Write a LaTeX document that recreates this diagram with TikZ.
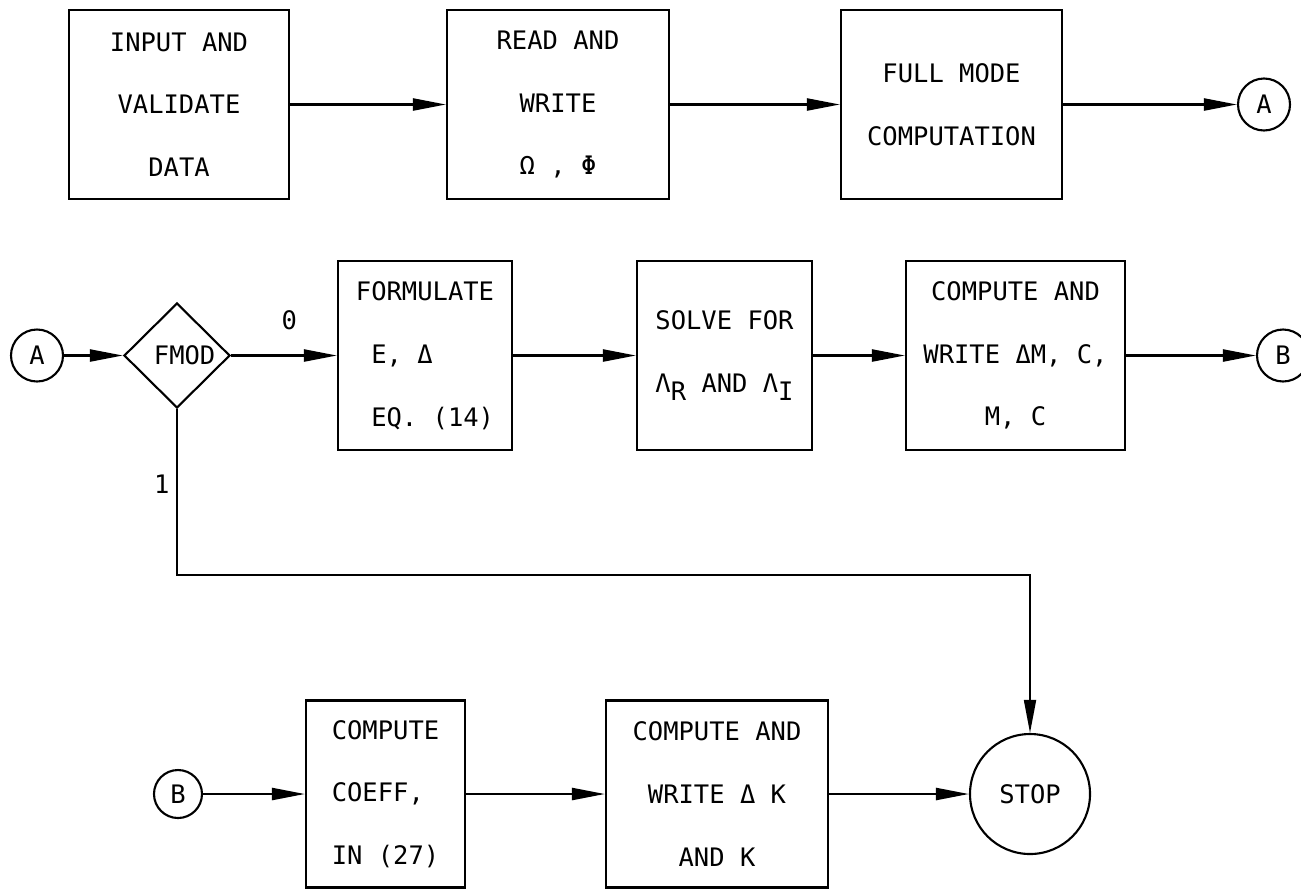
\documentclass[tikz,border=0pt]{standalone}
\usepackage{fontspec}
\setmonofont{DejaVu Sans Mono}
\usetikzlibrary{arrows.meta,shapes.geometric}
\newcommand{\flowfont}{\ttfamily\fontsize{14.5pt}{35.7pt}\selectfont}
\newcommand{\subdown}[1]{\raisebox{-0.6ex}{#1}}

\begin{document}
\begin{tikzpicture}[
  box/.style={rectangle,draw,line width=1.2pt,minimum height=3.78cm,inner sep=0pt,align=center,font=\flowfont},
  conn/.style={circle,draw,line width=1.2pt,minimum size=1.04cm,inner sep=0pt,font=\flowfont},
  test/.style={diamond,draw,line width=1.2pt,minimum width=2.12cm,minimum height=2.1cm,inner sep=0pt,font=\flowfont},
  lbl/.style={font=\flowfont,inner sep=1pt},
  arc/.style={-{Triangle[length=6.6mm,width=2.4mm]},line width=1.3pt}]
  \useasboundingbox (0,0) rectangle (26.02,-17.8);

  % first row
  \node[box,minimum width=4.4cm] (input) at (3.58,-2.09) {INPUT AND\\VALIDATE\\DATA};
  \node[box,minimum width=4.44cm] (readw) at (11.16,-2.09) {READ AND\\WRITE\\Ω , Φ};
  \node[box,minimum width=4.42cm] (fullm) at (19.03,-2.09) {FULL MODE\\COMPUTATION};
  \node[conn] (conA1) at (25.28,-2.09) {A};
  \draw[arc] (input) -- (readw);
  \draw[arc] (readw) -- (fullm);
  \draw[arc] (fullm) -- (conA1);

  % second row
  \node[conn] (conA2) at (0.74,-7.11) {A};
  \node[test] (fmod) at (3.54,-7.11) {\hspace*{0.6em}FMOD};
  \node[box,minimum width=3.48cm,align=left] (formul) at (8.5,-7.11) {FORMULATE\\~E, Δ\\~EQ. (14)};
  \node[box,minimum width=3.5cm] (solve) at (14.49,-7.11) {SOLVE FOR\\Λ\subdown{R} AND Λ\subdown{I}};
  \node[box,minimum width=4.38cm] (compmc) at (20.31,-7.11) {COMPUTE AND\\WRITE ΔM, C,\\M, C};
  \node[conn] (conB1) at (25.66,-7.11) {B};
  \draw[arc] (conA2) -- (fmod);
  \draw[arc] (fmod) -- node[lbl,above=0.45cm,pos=0.55] {0} (formul);
  \draw[arc] (formul) -- (solve);
  \draw[arc] (solve) -- (compmc);
  \draw[arc] (compmc) -- (conB1);

  % third row
  \node[conn,minimum size=0.96cm] (conB2) at (3.56,-15.88) {B};
  \node[box,minimum width=3.18cm,minimum height=3.74cm,align=left] (coeff) at (7.71,-15.88) {COMPUTE\\COEFF,\\IN (27)};
  \node[box,minimum width=4.44cm,minimum height=3.74cm] (compk) at (14.34,-15.88) {COMPUTE AND\\WRITE Δ K\\AND K};
  \node[circle,draw,line width=1.2pt,minimum size=2.4cm,inner sep=0pt,font=\flowfont] (stop) at (20.6,-15.88) {STOP};
  \draw[arc] (conB2) -- (coeff);
  \draw[arc] (coeff) -- (compk);
  \draw[arc] (compk) -- (stop);

  % branch 1 of the test
  \coordinate (turn) at (3.54,-11.5);
  \draw[arc,line width=1pt] (fmod.south) -- node[lbl,left=0.1cm,pos=0.45] {1} (turn) -| (stop.north);
\end{tikzpicture}
\end{document}
